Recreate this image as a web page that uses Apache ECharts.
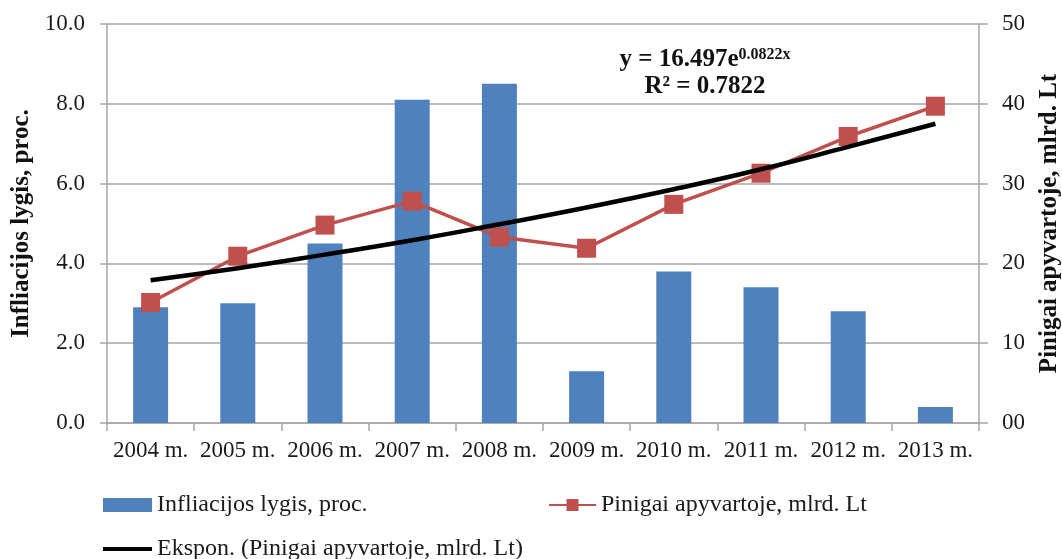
<!DOCTYPE html>
<html>
<head>
<meta charset="utf-8">
<script src="https://cdn.jsdelivr.net/npm/echarts@6/dist/echarts.min.js"></script>
<style>
  html, body { margin: 0; padding: 0; background: #fff; overflow: hidden; }
  #box { width: 1062px; height: 559px; }
</style>
</head>
<body>
<div id="box"></div>
<script>
// metai (kategorijos)
let years = ['2004 m.', '2005 m.', '2006 m.', '2007 m.', '2008 m.', '2009 m.', '2010 m.', '2011 m.', '2012 m.', '2013 m.'];
// infliacijos lygis, proc.
let inflation = [2.9, 3.0, 4.5, 8.1, 8.5, 1.3, 3.8, 3.4, 2.8, 0.4];
// pinigai apyvartoje, mlrd. Lt
let money = [15.1, 20.9, 24.8, 27.8, 23.3, 21.9, 27.4, 31.3, 35.9, 39.7];
// eksponentine trendo linija (nuskaityta nuo paveikslo)
let trend = [17.9, 19.4, 21.1, 22.9, 24.9, 27.0, 29.3, 31.8, 34.6, 37.5];

let nameBar = 'Infliacijos lygis, proc.';
let nameLine = 'Pinigai apyvartoje, mlrd. Lt';
let nameTrend = 'Ekspon. (Pinigai apyvartoje, mlrd. Lt)';

let font = 'Liberation Serif';
let gridColor = '#a6a6a6';
let txt = '#1a1a1a';

let chart = echarts.init(document.getElementById('box'));

let option = {
    backgroundColor: '#fff',
    animation: false,
    textStyle: { fontFamily: font },
    // v6: be sito grid susitraukia, kad tilptu asiu pavadinimai
    grid: { left: 107, right: 83, top: 24, bottom: 136, outerBoundsMode: 'none', containLabel: false },
    legend: [
        {
            data: [nameBar], left: 98, top: 488,
            itemWidth: 49, itemHeight: 14, icon: 'rect',
            textStyle: { fontFamily: font, fontSize: 24, color: txt }
        },
        {
            data: [nameLine], left: 543, top: 488,
            itemWidth: 47, itemHeight: 15,
            textStyle: { fontFamily: font, fontSize: 24, color: txt }
        },
        {
            data: [nameTrend], left: 98, top: 532,
            itemWidth: 49, itemHeight: 4, icon: 'rect',
            textStyle: { fontFamily: font, fontSize: 24, color: txt }
        }
    ],
    xAxis: {
        type: 'category',
        data: years,
        axisLine: { lineStyle: { color: gridColor, width: 1.5 } },
        axisTick: { show: true, length: 8, interval: 0, lineStyle: { color: gridColor, width: 1.5 } },
        axisLabel: { interval: 0, margin: 16, fontFamily: font, fontSize: 23, color: txt }
    },
    yAxis: [
        {
            type: 'value', min: 0, max: 10, interval: 2,
            name: nameBar, nameLocation: 'middle', nameRotate: 90, nameGap: 72,
            nameTextStyle: { fontFamily: font, fontSize: 25, fontWeight: 'bold', color: '#111' },
            axisLine: { show: true, lineStyle: { color: gridColor, width: 1.5 } },
            axisTick: { show: true, length: 7, lineStyle: { color: gridColor, width: 1.5 } },
            splitLine: { lineStyle: { color: gridColor, width: 1.5 } },
            axisLabel: {
                margin: 22, fontFamily: font, fontSize: 23, color: txt,
                formatter: function (v) { return v.toFixed(1); }
            }
        },
        {
            type: 'value', min: 0, max: 50, interval: 10, position: 'right',
            name: nameLine, nameLocation: 'middle', nameRotate: 90, nameGap: 58,
            nameTextStyle: { fontFamily: font, fontSize: 25, fontWeight: 'bold', color: '#111' },
            axisLine: { show: true, lineStyle: { color: gridColor, width: 1.5 } },
            axisTick: { show: true, length: 9, lineStyle: { color: gridColor, width: 1.5 } },
            splitLine: { show: false },
            axisLabel: {
                margin: 23, fontFamily: font, fontSize: 23, color: txt,
                formatter: function (v) { return v === 0 ? '00' : String(v); }
            }
        }
    ],
    series: [
        {
            name: nameBar, type: 'bar', yAxisIndex: 0,
            data: inflation, barWidth: 35,
            itemStyle: { color: '#4f81bd' }
        },
        {
            name: nameLine, type: 'line', yAxisIndex: 1,
            data: money, symbol: 'rect', symbolSize: 19,
            lineStyle: { color: '#c0504d', width: 3.5 },
            itemStyle: { color: '#c0504d' },
            z: 3
        },
        {
            name: nameTrend, type: 'line', yAxisIndex: 1,
            data: trend, symbol: 'none', smooth: true,
            lineStyle: { color: '#000', width: 4.5 },
            itemStyle: { color: '#000' },
            z: 4
        }
    ],
    graphic: [
        {
            type: 'text', x: 705, y: 47,
            style: {
                text: '{a|y = 16.497e}{s|0.0822x}',
                align: 'center', verticalAlign: 'top',
                rich: {
                    a: { fontFamily: font, fontSize: 25, fontWeight: 'bold', fill: '#111', lineHeight: 26 },
                    s: { fontFamily: font, fontSize: 16, fontWeight: 'bold', fill: '#111', verticalAlign: 'top', lineHeight: 26 }
                }
            }
        },
        {
            type: 'text', x: 705, y: 74,
            style: {
                text: 'R² = 0.7822', align: 'center', verticalAlign: 'top',
                fontFamily: font, fontSize: 25, fontWeight: 'bold', fill: '#111'
            }
        }
    ]
};

chart.setOption(option);
</script>
</body>
</html>
